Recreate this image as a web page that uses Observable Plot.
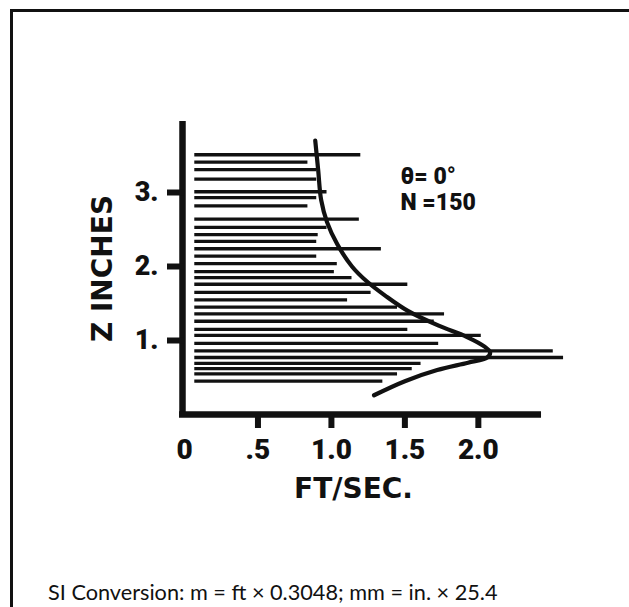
<!DOCTYPE html>
<html><head><meta charset="utf-8">
<script src="https://cdn.jsdelivr.net/npm/d3@7"></script>
<script src="https://cdn.jsdelivr.net/npm/@observablehq/plot@0.6"></script>
<style>
body{margin:0;background:#fff;width:629px;height:607px;overflow:hidden;position:relative}
#frame{position:absolute;left:10px;top:9px;width:660px;height:640px;border-top:3px solid #111;border-left:3px solid #111}
#chart{position:absolute;left:0;top:0}
#caption{position:absolute;left:48px;top:579px;font:20px Lato, "Open Sans", sans-serif;line-height:1.2;color:#111;white-space:nowrap}
</style></head><body>
<div id="frame"></div><div id="chart"></div>
<div id="caption">SI Conversion: m = ft × 0.3048; mm = in. × 25.4</div>
<script>
// measured velocity traces: height z (inches) and velocity reached (ft/sec)
const barStart = 0.07;
const barZ = [3.51,3.41,3.31,3.18,3.01,2.93,2.82,2.64,2.53,2.43,2.34,2.24,2.14,2.04,1.93,1.85,1.76,1.65,1.55,1.45,1.36,1.26,1.15,1.07,0.96,0.86,0.77,0.69,0.62,0.55,0.45];
const barV = [1.20,0.84,0.90,0.90,0.97,0.90,0.84,1.19,0.97,0.91,0.90,1.34,0.90,1.04,1.02,1.14,1.52,1.27,1.11,1.45,1.77,1.70,1.52,2.02,1.73,2.51,2.58,1.61,1.55,1.45,1.35];
// mean velocity profile
const profileZ = [3.70,3.30,2.90,2.60,2.30,2.00,1.80,1.60,1.40,1.20,1.05,0.92,0.84,0.77,0.70,0.60,0.45,0.26];
const profileV = [0.89,0.91,0.93,0.97,1.04,1.14,1.24,1.37,1.52,1.73,1.92,2.04,2.08,2.06,1.93,1.72,1.50,1.29];
// axes
const xTicks = [0.5,1,1.5,2];
const xLabelValues = [0,0.5,1,1.5,2];
const xLabels = ["0",".5","1.0","1.5","2.0"];
const yTicks = [1,2,3];
const yLabels = ["1.","2.","3."];
const xAxisEnd = 2.43;
const yAxisTop = 4;
const xTitle = "FT/SEC.";
const yTitle = "Z INCHES";
const notes = ["θ= 0°","N =150"];
const noteV = [1.47,1.47];
const noteZ = [3.22,2.86];

const bars = barZ.map((z,i)=>({z, v: barV[i]}));
const profile = profileZ.map((z,i)=>({z, v: profileV[i]}));
const noteData = notes.map((t,i)=>({t, v: noteV[i], z: noteZ[i]}));
const font = "Roboto, 'Liberation Sans', Arial, sans-serif";
const titleFont = "'DejaVu Sans', 'Liberation Sans', sans-serif";

const chart = Plot.plot({
  width: 629, height: 530,
  marginLeft: 184, marginRight: 63, marginTop: 118, marginBottom: 116,
  style: {fontFamily: font, background: "transparent", overflow: "visible", color: "#111"},
  x: {domain: [0, 2.6]},
  y: {domain: [0, 4]},
  marks: [
    Plot.ruleY(bars, {y: "z", x1: barStart, x2: "v", stroke: "#111", strokeWidth: 3.3}),
    Plot.line(profile, {x: "v", y: "z", curve: "catmull-rom", stroke: "#111", strokeWidth: 4.2}),
    Plot.ruleX([0], {y1: 0, y2: yAxisTop, stroke: "#111", strokeWidth: 6.5, dx: -2, insetBottom: -3}),
    Plot.ruleY([0], {x1: 0, x2: xAxisEnd, stroke: "#111", strokeWidth: 6.5, insetLeft: -5}),
    Plot.axisX(xTicks, {anchor: "bottom", tickSize: 14, strokeWidth: 6, stroke: "#111", tickFormat: () => "", label: null}),
    Plot.axisX(xLabelValues, {anchor: "bottom", tickSize: 0, tickPadding: 25, fontSize: 28, fontWeight: 900, fill: "#111", tickFormat: (d) => xLabels[xLabelValues.indexOf(d)], label: null}),
    Plot.axisY(yTicks, {anchor: "left", tickSize: 17, tickPadding: 9, strokeWidth: 6, stroke: "#111", fontSize: 27, fontWeight: 900, fill: "#111", tickFormat: (d) => yLabels[yTicks.indexOf(d)], label: null}),
    Plot.text([xTitle], {frameAnchor: "bottom", dx: -22, dy: 75, fontSize: 28, fontWeight: "bold", fontFamily: titleFont, fill: "#111", lineAnchor: "middle", textAnchor: "middle"}),
    Plot.text([yTitle], {frameAnchor: "left", dx: -81, dy: 2, rotate: -90, fontSize: 28, fontWeight: "bold", fontFamily: titleFont, fill: "#111", lineAnchor: "middle", textAnchor: "middle"}),
    Plot.text(noteData, {x: "v", y: "z", text: "t", textAnchor: "start", fontSize: 23, fontWeight: 900, fill: "#111", lineAnchor: "middle"})
  ]
});
document.getElementById("chart").appendChild(chart);
const cap = document.getElementById("caption");
const w = cap.getBoundingClientRect().width;
if (w > 0) cap.style.fontSize = (20 * 450 / w) + "px";
</script></body></html>
